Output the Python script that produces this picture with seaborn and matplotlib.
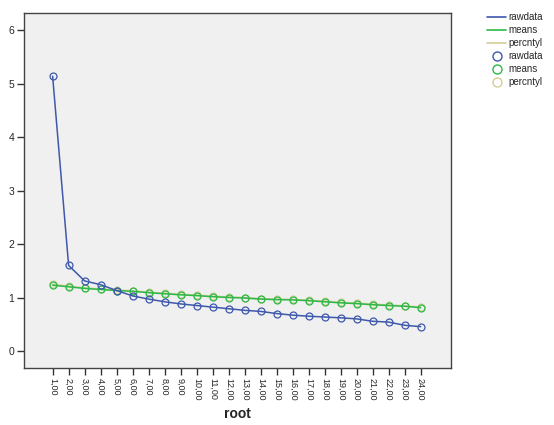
import numpy as np
import pandas as pd
import matplotlib
matplotlib.use("Agg")
import matplotlib.pyplot as plt
from matplotlib.lines import Line2D
import seaborn as sns

# ------------------- Data -------------------- #
root = list(range(1, 25))
root_labels = [f"{r},00" for r in root]
rawdata = [5.14, 1.60, 1.31, 1.24, 1.13, 1.03, 0.97, 0.92, 0.88, 0.85, 0.82, 0.79,
           0.76, 0.74, 0.70, 0.67, 0.65, 0.635, 0.62, 0.60, 0.555, 0.54, 0.48, 0.455]
means = [1.23, 1.20, 1.17, 1.15, 1.13, 1.115, 1.09, 1.07, 1.05, 1.035, 1.015, 1.00,
         0.99, 0.97, 0.96, 0.955, 0.94, 0.92, 0.90, 0.885, 0.865, 0.85, 0.835, 0.81]
percntyl = [1.25, 1.21, 1.18, 1.16, 1.14, 1.125, 1.10, 1.08, 1.06, 1.045, 1.025, 1.01,
            1.00, 0.98, 0.97, 0.965, 0.95, 0.93, 0.91, 0.895, 0.875, 0.86, 0.845, 0.82]

series = {"rawdata": rawdata, "means": means, "percntyl": percntyl}
colors = {"rawdata": "#3E58AC", "means": "#2EB848", "percntyl": "#D3CE97"}

df = pd.DataFrame({"pos": np.arange(len(root)), "root": root_labels, **series})
long = df.melt(id_vars=["pos", "root"], var_name="series", value_name="value")

# ------------------- Plot -------------------- #
sns.set_style("ticks")
plt.rcParams["font.family"] = ["Liberation Sans", "DejaVu Sans"]

fig = plt.figure(figsize=(5.54, 4.25), dpi=100)
ax = fig.add_axes([0.0433, 0.134, 0.770, 0.835])
ax.set_facecolor("#F0F0F0")

for name in ["percntyl", "means", "rawdata"]:
    sub = long[long["series"] == name]
    sns.lineplot(data=sub, x="pos", y="value", ax=ax, color=colors[name],
                 linewidth=1.1, marker="o", markersize=5, markerfacecolor="none",
                 markeredgecolor=colors[name], markeredgewidth=0.9, legend=False)

ax.set_xlim(-1.79, 24.87)
ax.set_ylim(-0.32, 6.32)
ax.set_xticks(df["pos"])
ax.set_xticklabels(root_labels, rotation=-90, fontsize=6.5)
ax.set_yticks(range(0, 7))
ax.set_yticklabels([str(v) for v in range(0, 7)], fontsize=7.5)
ax.tick_params(direction="out", length=5, width=1, color="#333333", pad=2)
ax.set_xlabel("root", fontsize=10, fontweight="bold", labelpad=5)
ax.set_ylabel("")
for s in ax.spines.values():
    s.set_visible(True)
    s.set_color("#444444")
    s.set_linewidth(1.0)

handles = [Line2D([], [], color=colors[n], linewidth=1.2) for n in series] + \
          [Line2D([], [], linestyle="none", marker="o", markersize=6.5, markerfacecolor="none",
                  markeredgecolor=colors[n], markeredgewidth=1.0) for n in series]
labels = list(series) + list(series)
fig.legend(handles, labels, loc="upper left", bbox_to_anchor=(0.872, 0.98), frameon=False,
           fontsize=7, handlelength=2.0, handletextpad=0.2, labelspacing=0.3,
           borderaxespad=0)

fig.savefig("out.png", dpi=100)
